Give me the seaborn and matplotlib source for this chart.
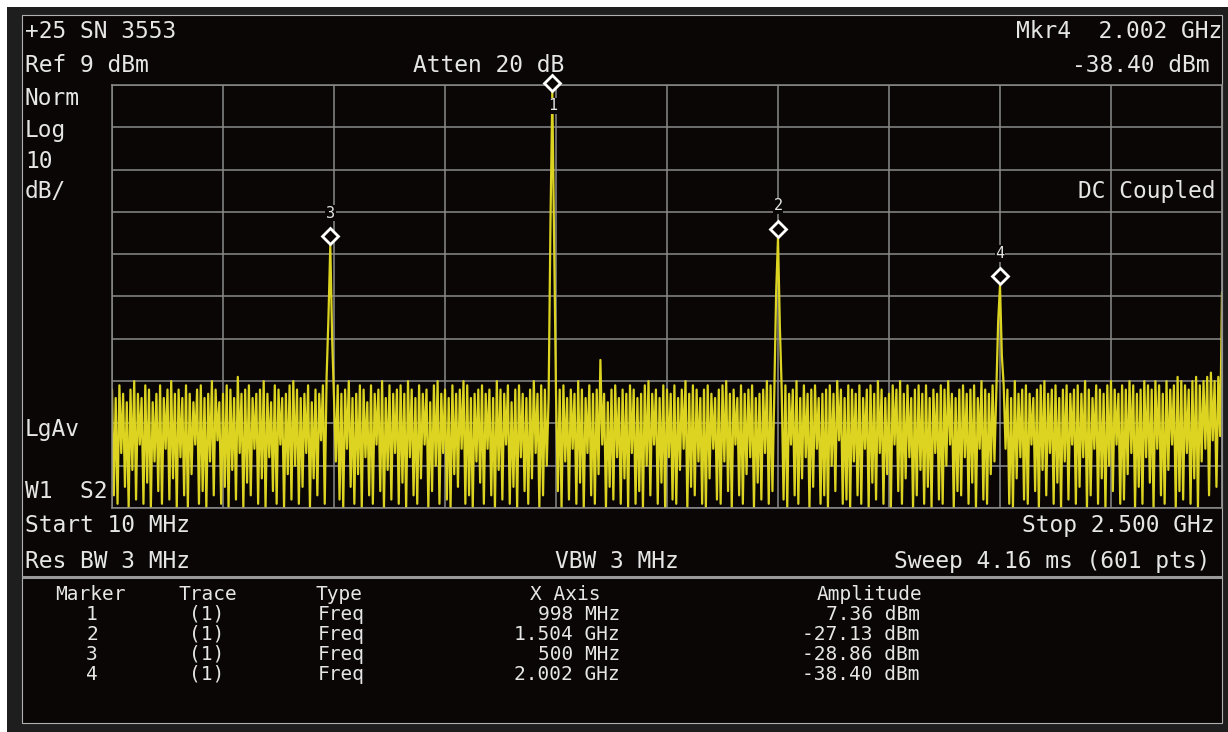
import numpy as np
import matplotlib
matplotlib.use("Agg")
import matplotlib.pyplot as plt
import matplotlib.transforms as mtransforms
from matplotlib.patches import Rectangle
import seaborn as sns

# ---- instrument settings -------------------------------------------------
START_MHZ = 10
STOP_MHZ = 2500
REF_LEVEL_DBM = 9
DB_PER_DIV = 10
N_DIV = 10

# ---- marker table --------------------------------------------------------
MARKER_IDS = [1, 2, 3, 4]
MARKER_FREQ_MHZ = [998, 1504, 500, 2002]
MARKER_AMP_DBM = [7.36, -27.13, -28.86, -38.40]
MARKER_X_LABELS = ["998 MHz", "1.504 GHz", "500 MHz", "2.002 GHz"]
MARKER_AMP_LABELS = ["7.36 dBm", "-27.13 dBm", "-28.86 dBm", "-38.40 dBm"]
# sweep points on either side of each marker peak (filter skirt)
SKIRT_LEFT_DBM = [-24, -40, -46, -47]
SKIRT_RIGHT_DBM = [-28, -48, -51, -55]

# ---- trace noise: even sweep points (upper excursions) -------------------
NOISE_HIGH_DBM = [
    -63, -65, -62, -64, -66, -63, -61, -64, -65, -62, -63, -66, -64, -62, -65, -63, -61, -64, -63, -65,
    -62, -64, -66, -63, -62, -65, -64, -61, -63, -66, -64, -62, -63, -65, -60, -64, -63, -62, -65, -64,
    -63, -61, -64, -66, -62, -63, -65, -64, -62, -61, -63, -65, -64, -62, -66, -63, -64, -62, -60, -63,
    -65, -62, -64, -63, -61, -65, -64, -62, -63, -66, -62, -64, -63, -61, -65, -62, -64, -63, -62, -64,
    -61, -63, -65, -62, -64, -63, -66, -62, -61, -64, -63, -65, -62, -64, -63, -61, -62, -65, -64, -63,
    -62, -64, -63, -65, -61, -63, -64, -62, -66, -63, -62, -64, -65, -63, -61, -64, -62, -63, -65, -62,
    -64, -63, -62, -65, -63, -64, -61, -63, -65, -62, -64, -63, -56, -64, -66, -63, -62, -65, -63, -64,
    -62, -63, -65, -64, -62, -61, -64, -63, -65, -62, -63, -64, -62, -65, -63, -61, -64, -62, -63, -65,
    -63, -62, -64, -65, -63, -62, -61, -64, -63, -65, -62, -64, -63, -62, -65, -64, -63, -61, -62, -64,
    -65, -63, -62, -64, -63, -61, -65, -62, -64, -63, -62, -65, -64, -63, -62, -64, -61, -63, -65, -62,
    -63, -64, -62, -65, -63, -62, -64, -61, -63, -65, -64, -62, -63, -61, -64, -62, -65, -63, -62, -64,
    -62, -65, -63, -64, -62, -63, -61, -64, -65, -63, -62, -64, -63, -62, -65, -61, -63, -64, -62, -63,
    -64, -62, -63, -65, -61, -64, -63, -62, -64, -65, -63, -62, -61, -64, -63, -62, -65, -63, -62, -64,
    -63, -62, -64, -61, -63, -65, -62, -63, -64, -62, -61, -63, -64, -62, -63, -61, -62, -64, -63, -61,
    -62, -63, -61, -62, -64, -61, -63, -62, -60, -61, -62, -63, -61, -60, -62, -61, -60, -59, -61, -60,
    -40,
]

# ---- trace noise: odd sweep points (lower excursions) --------------------
NOISE_LOW_DBM = [
    -88, -90, -78, -86, -91, -82, -89, -76, -90, -85, -91, -80, -87, -90, -77, -89, -84, -91, -79, -88,
    -91, -83, -76, -90, -87, -91, -80, -88, -75, -90, -86, -91, -82, -89, -78, -91, -85, -88, -77, -90,
    -84, -91, -79, -87, -90, -76, -91, -83, -89, -81, -90, -86, -78, -91, -84, -88, -75, -90, -87, -91,
    -80, -89, -91, -77, -86, -90, -83, -91, -79, -88, -90, -76, -87, -91, -82, -89, -78, -90, -85, -91,
    -79, -88, -90, -84, -76, -91, -87, -81, -90, -78, -89, -91, -83, -86, -77, -90, -88, -91, -80, -85,
    -90, -77, -88, -91, -82, -89, -76, -90, -86, -91, -79, -87, -90, -84, -78, -91, -88, -81, -90, -76,
    -87, -91, -80, -89, -77, -90, -85, -91, -78, -88, -90, -83, -76, -91, -86, -89, -79, -90, -84, -91,
    -78, -90, -87, -91, -81, -88, -76, -90, -85, -91, -79, -89, -90, -82, -77, -91, -86, -88, -80, -90,
    -91, -84, -77, -89, -90, -80, -87, -91, -76, -88, -90, -83, -79, -91, -85, -89, -78, -90, -87, -91,
    -82, -89, -91, -76, -88, -90, -84, -79, -91, -86, -77, -90, -88, -91, -81, -87, -75, -90, -89, -91,
    -80, -88, -90, -77, -91, -85, -89, -78, -90, -83, -91, -76, -87, -90, -84, -79, -91, -88, -82, -90,
    -86, -91, -78, -89, -90, -81, -76, -91, -87, -88, -79, -90, -85, -91, -77, -89, -90, -83, -80, -91,
    -88, -77, -90, -91, -84, -79, -89, -90, -76, -87, -91, -82, -88, -78, -90, -85, -91, -80, -89, -76,
    -90, -86, -79, -91, -88, -77, -90, -84, -91, -81, -87, -76, -90, -89, -83, -78, -91, -86, -90, -79,
    -85, -91, -77, -88, -90, -82, -76, -91, -87, -89, -78, -90, -84, -91, -80, -77, -88, -75, -86, -74,
]

# ---- annotation text -----------------------------------------------------
TOP_LEFT = "+25 SN 3553"
TOP_RIGHT = "Mkr4  2.002 GHz"
REF_TEXT = "Ref 9 dBm"
ATTEN_TEXT = "Atten 20 dB"
MKR_AMP_TEXT = "-38.40 dBm"
SIDE_LABELS = [("Norm", 105), ("Log", 137), ("10", 168), ("dB/", 198), ("LgAv", 436), ("W1  S2", 498)]
COUPLING_TEXT = "DC Coupled"
START_TEXT = "Start 10 MHz"
STOP_TEXT = "Stop 2.500 GHz"
RBW_TEXT = "Res BW 3 MHz"
VBW_TEXT = "VBW 3 MHz"
SWEEP_TEXT = "Sweep 4.16 ms (601 pts)"
TABLE_HEADERS = ["Marker", "Trace", "Type", "X Axis", "Amplitude"]
TABLE_TRACE = "(1)"
TABLE_TYPE = "Freq"

# ---- colours -------------------------------------------------------------
SCREEN = "#0a0606"
FRAME = "#1e1e1e"
INK = "#e6e6e6"
GRID = "#8a8a8a"
TRACE = "#dcd420"

sns.set_theme(style="dark")
plt.rcParams["font.family"] = ["DejaVu Sans Mono", "DejaVu Sans"]

W, H = 1228, 732
fig = plt.figure(figsize=(W / 100, H / 100), dpi=100)
fig.patch.set_facecolor("white")

# pixel-space backdrop carrying the screen and all readout text
bg = fig.add_axes([0, 0, 1, 1], zorder=0)
bg.set_xlim(0, W)
bg.set_ylim(H, 0)
bg.axis("off")
bg.add_patch(Rectangle((7, 7), W - 7, H - 7, facecolor=FRAME, edgecolor="none"))
bg.add_patch(Rectangle((22, 15), 1200, 708, facecolor=SCREEN, edgecolor="#b0b0b0", lw=0.8))
bg.plot([22, 1222], [577, 577], color="#9a9a9a", lw=2.2, solid_capstyle="butt")

big = dict(color=INK, fontsize=16.5, va="baseline")
bg.text(25, 38, TOP_LEFT, ha="left", **big)
bg.text(1222, 38, TOP_RIGHT, ha="right", **big)
bg.text(25, 72, REF_TEXT, ha="left", **big)
bg.text(413, 72, ATTEN_TEXT, ha="left", **big)
bg.text(1210, 72, MKR_AMP_TEXT, ha="right", **big)
for label, yb in SIDE_LABELS:
    bg.text(25, yb, label, ha="left", **big)
bg.text(1215, 198, COUPLING_TEXT, ha="right", zorder=3, **big)
bg.text(1215, 532, STOP_TEXT, ha="right", **big)
bg.text(25, 532, START_TEXT, ha="left", **big)
bg.text(25, 568, RBW_TEXT, ha="left", **big)
bg.text(555, 568, VBW_TEXT, ha="left", **big)
bg.text(1210, 568, SWEEP_TEXT, ha="right", **big)

# marker table
small = dict(color=INK, fontsize=14, va="baseline")
header_x = [90, 208, 316, 565, 870]
header_ha = ["center", "center", "left", "center", "center"]
for txt, x, ha in zip(TABLE_HEADERS, header_x, header_ha):
    bg.text(x, 600, txt, ha=ha, **small)
for row, (mid, xl, al) in enumerate(zip(MARKER_IDS, MARKER_X_LABELS, MARKER_AMP_LABELS)):
    yb = 620 + 20 * row
    bg.text(92, yb, str(mid), ha="center", **small)
    bg.text(207, yb, TABLE_TRACE, ha="center", **small)
    bg.text(318, yb, TABLE_TYPE, ha="left", **small)
    bg.text(620, yb, xl, ha="right", **small)
    bg.text(920, yb, al, ha="right", **small)

# ---- spectrum trace ------------------------------------------------------
trace = np.empty(len(NOISE_HIGH_DBM) + len(NOISE_LOW_DBM))
trace[0::2] = NOISE_HIGH_DBM
trace[1::2] = NOISE_LOW_DBM
freq = np.linspace(START_MHZ, STOP_MHZ, trace.size)
for f, a, lo, hi in zip(MARKER_FREQ_MHZ, MARKER_AMP_DBM, SKIRT_LEFT_DBM, SKIRT_RIGHT_DBM):
    i = int(np.argmin(np.abs(freq - f)))
    trace[i] = a
    trace[i - 1] = lo
    trace[i + 1] = hi

x0, x1, y0, y1 = 112, 1222, 85, 508
ax = fig.add_axes([x0 / W, (H - y1) / H, (x1 - x0) / W, (y1 - y0) / H], zorder=2)
ax.set_facecolor("none")
ax.set_xlim(START_MHZ, STOP_MHZ)
ax.set_ylim(REF_LEVEL_DBM - DB_PER_DIV * N_DIV, REF_LEVEL_DBM)
ax.set_xticks(np.linspace(START_MHZ, STOP_MHZ, N_DIV + 1))
ax.set_yticks(np.linspace(REF_LEVEL_DBM - DB_PER_DIV * N_DIV, REF_LEVEL_DBM, N_DIV + 1))
ax.tick_params(length=0, labelbottom=False, labelleft=False)
ax.grid(True, color=GRID, lw=1.1)
ax.set_axisbelow(True)
for sp in ax.spines.values():
    sp.set_color(GRID)
    sp.set_linewidth(1.1)

sns.lineplot(x=freq, y=trace, ax=ax, color=TRACE, lw=1.6, estimator=None,
             sort=False, legend=False)

# marker diamonds sit with their lower tip on the marked point
diamond_tr = mtransforms.offset_copy(ax.transData, fig=fig, x=0, y=6.5, units="points")
ax.plot(MARKER_FREQ_MHZ, MARKER_AMP_DBM, ls="none", marker="D", ms=8,
        mfc=SCREEN, mec="white", mew=2.0, transform=diamond_tr, clip_on=False, zorder=6)
for mid, f, a in zip(MARKER_IDS, MARKER_FREQ_MHZ, MARKER_AMP_DBM):
    dy = -10 if mid == 1 else 23
    ax.annotate(str(mid), xy=(f, a), xytext=(0, dy), textcoords="offset points",
                ha="center", va="center", color=INK, fontsize=11, zorder=7,
                annotation_clip=False,
                bbox=dict(boxstyle="square,pad=0.05", fc=SCREEN, ec="none"))

fig.savefig("out.png", dpi=100, facecolor=fig.get_facecolor())
